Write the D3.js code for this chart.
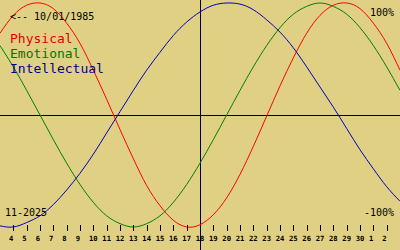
<!DOCTYPE html>
<html lang="en">

<head>
    <meta charset="UTF-8">
    <title>Biorhythm</title>
    <style>
        body { margin: 0; background: #e0d084; }
        text { font-family: 'DejaVu Sans Mono', monospace; }
    </style>
</head>

<body>
    <svg id="svg" width="400" height="250"></svg>

    <script src="https://d3js.org/d3.v7.min.js"></script>
    <script>
        // day labels under the ticks (index 1..29), index 0 and 30 are the edges
        const dayLabels = ['4', '5', '6', '7', '8', '9', '10', '11', '12', '13', '14', '15', '16', '17', '18',
            '19', '20', '21', '22', '23', '24', '25', '26', '27', '28', '29', '30', '1', '2']

        // values read per day, index 0..30
        const physical = [0.73, 0.89, 0.98, 1.00, 0.95, 0.82, 0.64, 0.40, 0.14, -0.13, -0.39, -0.63, -0.81, -0.94, -1.00,
            -0.98, -0.89, -0.74, -0.53, -0.28, -0.01, 0.26, 0.51, 0.73, 0.89, 0.98, 1.00, 0.95, 0.82, 0.64, 0.40]
        const emotional = [0.62, 0.43, 0.22, 0.00, -0.22, -0.43, -0.62, -0.78, -0.90, -0.97, -1.00, -0.97, -0.90, -0.78, -0.62,
            -0.43, -0.22, 0.00, 0.22, 0.43, 0.62, 0.78, 0.90, 0.97, 1.00, 0.97, 0.90, 0.78, 0.62, 0.43, 0.22]
        const intellectual = [-0.99, -1.00, -0.96, -0.90, -0.80, -0.67, -0.52, -0.35, -0.16, 0.03, 0.22, 0.40, 0.56, 0.71, 0.83,
            0.92, 0.98, 1.00, 0.99, 0.94, 0.85, 0.74, 0.60, 0.43, 0.25, 0.07, -0.12, -0.31, -0.48, -0.64, -0.77]

        const series = [
            { name: 'Physical', values: physical, color: '#ff0000', text: '#e00000' },
            { name: 'Emotional', values: emotional, color: '#008000', text: '#007800' },
            { name: 'Intellectual', values: intellectual, color: '#0000c0', text: '#000090' }
        ]

        const svg = d3.select('#svg')

        const xScale = d3.scaleLinear()
            .domain([0, 30])
            .range([0, 400])
        const yScale = d3.scaleLinear()
            .domain([-1, 1])
            .range([227, 3])

        // zero line and "today" line
        svg.append('line')
            .attr('x1', 0).attr('x2', 400)
            .attr('y1', Math.round(yScale(0)) + 0.5).attr('y2', Math.round(yScale(0)) + 0.5)
            .attr('stroke', 'black')
        svg.append('line')
            .attr('x1', xScale(15) + 0.5).attr('x2', xScale(15) + 0.5)
            .attr('y1', 0).attr('y2', 250)
            .attr('stroke', 'black')

        const line = d3.line()
            .x((d, i) => xScale(i))
            .y(d => yScale(d))
            .curve(d3.curveNatural)

        svg.selectAll('path.curve')
            .data(series)
            .enter()
            .append('path')
            .attr('class', 'curve')
            .attr('d', d => line(d.values))
            .attr('fill', 'none')
            .attr('stroke', d => d.color)
            .attr('stroke-width', 1)

        // ticks + day labels
        const ticks = svg.append('g')
        ticks.selectAll('line')
            .data(dayLabels)
            .enter()
            .append('line')
            .attr('x1', (d, i) => Math.round(xScale(i + 1)) + 0.5)
            .attr('x2', (d, i) => Math.round(xScale(i + 1)) + 0.5)
            .attr('y1', 225)
            .attr('y2', 231)
            .attr('stroke', 'black')
        ticks.selectAll('text')
            .data(dayLabels)
            .enter()
            .append('text')
            .attr('x', (d, i) => xScale(i + 1) - 4.3)
            .attr('y', 240.5)
            .attr('font-size', 7.2)
            .attr('font-weight', 'bold')
            .text(d => d)

        // legend
        svg.selectAll('text.legend')
            .data(series)
            .enter()
            .append('text')
            .attr('class', 'legend')
            .attr('x', 10)
            .attr('y', (d, i) => 43 + i * 15)
            .attr('font-size', 13)
            .attr('fill', d => d.text)
            .text(d => d.name)

        svg.append('text')
            .attr('x', 10).attr('y', 20)
            .attr('font-size', 10)
            .text('<-- 10/01/1985')
        svg.append('text')
            .attr('x', 5).attr('y', 216)
            .attr('font-size', 10)
            .text('11-2025')
        svg.append('text')
            .attr('x', 394).attr('y', 16)
            .attr('font-size', 10)
            .attr('text-anchor', 'end')
            .text('100%')
        svg.append('text')
            .attr('x', 394).attr('y', 216)
            .attr('font-size', 10)
            .attr('text-anchor', 'end')
            .text('-100%')
    </script>
</body>

</html>
